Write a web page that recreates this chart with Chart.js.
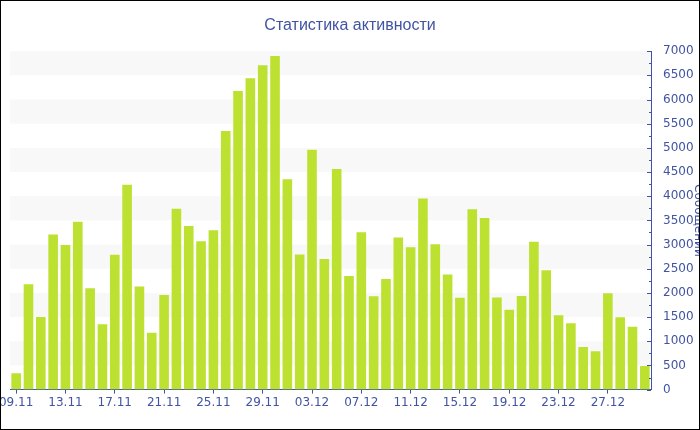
<!DOCTYPE html>
<html>
<head>
<meta charset="utf-8">
<script src="https://cdn.jsdelivr.net/npm/chart.js@4/dist/chart.umd.min.js"></script>
<style>
  html, body { margin: 0; padding: 0; background: #fff; }
  #caja { width: 698px; height: 428px; border: 1px solid #000; position: relative; }
</style>
</head>
<body>
<div id="caja"><canvas id="miGrafico" width="698" height="428"></canvas></div>
<script>
// Статистика активности — данные по дням
const fechas = [
  '09.11','10.11','11.11','12.11','13.11','14.11','15.11','16.11','17.11','18.11',
  '19.11','20.11','21.11','22.11','23.11','24.11','25.11','26.11','27.11','28.11',
  '29.11','30.11','01.12','02.12','03.12','04.12','05.12','06.12','07.12','08.12',
  '09.12','10.12','11.12','12.12','13.12','14.12','15.12','16.12','17.12','18.12',
  '19.12','20.12','21.12','22.12','23.12','24.12','25.12','26.12','27.12','28.12',
  '29.12','30.12'
];
const mensajes = [
  340, 2180, 1500, 3210, 2990, 3470, 2095, 1350, 2790, 4240,
  2135, 1175, 1955, 3740, 3385, 3070, 3295, 5350, 6175, 6440,
  6710, 6900, 4350, 2795, 4960, 2700, 4565, 2350, 3255, 1930,
  2290, 3145, 2945, 3955, 3005, 2380, 1900, 3730, 3550, 1905,
  1650, 1935, 3060, 2470, 1540, 1370, 880, 795, 1995, 1495,
  1300, 490
];
const ticksY = [0, 500, 1000, 1500, 2000, 2500, 3000, 3500, 4000, 4500, 5000, 5500, 6000, 6500, 7000];

const azul = '#4153a3';
const verde = '#bde130';

// franjas grises alternas + marcas menores del eje derecho
const franjas = {
  id: 'franjas',
  beforeDatasetsDraw(chart) {
    const { ctx, chartArea, scales } = chart;
    const y = scales.y;
    ctx.save();
    ctx.fillStyle = '#f8f8f8';
    for (let i = 1; i < ticksY.length - 1; i += 2) {
      const top = y.getPixelForValue(ticksY[i + 1]);
      const bot = y.getPixelForValue(ticksY[i]);
      ctx.fillRect(chartArea.left, top, chartArea.right - chartArea.left, bot - top);
    }
    ctx.restore();
  },
  afterDraw(chart) {
    const { ctx, scales } = chart;
    const y = scales.y;
    ctx.save();
    ctx.strokeStyle = azul;
    ctx.lineWidth = 1;
    for (let v = 0; v <= 7000; v += 250) {
      const py = Math.round(y.getPixelForValue(v)) + 0.5;
      const len = v % 500 === 0 ? 4 : 2;
      ctx.beginPath();
      ctx.moveTo(y.left - len, py);
      ctx.lineTo(y.left, py);
      ctx.stroke();
    }
    ctx.restore();
  }
};

const ctx = document.getElementById('miGrafico').getContext('2d');
new Chart(ctx, {
  type: 'bar',
  data: {
    labels: fechas,
    datasets: [{
      label: 'Сообщений',
      data: mensajes,
      backgroundColor: verde,
      barPercentage: 0.78,
      categoryPercentage: 1
    }]
  },
  options: {
    responsive: false,
    animation: false,
    layout: { padding: { left: 0, right: 0, bottom: 17 } },
    plugins: {
      legend: { display: false },
      tooltip: { enabled: false },
      title: {
        display: true,
        text: 'Статистика активности',
        color: azul,
        font: { family: 'Liberation Sans', size: 16, weight: 'normal' },
        padding: { top: 15, bottom: 16 }
      }
    },
    scales: {
      x: {
        offset: true,
        afterFit: (s) => { s.paddingLeft = 9; },
        grid: { display: true, drawOnChartArea: false, offset: false, color: azul, tickLength: 4 },
        border: { display: true, color: azul },
        ticks: {
          autoSkip: false,
          maxRotation: 0,
          color: azul,
          padding: 2,
          font: { family: 'DejaVu Sans', size: 12 },
          callback: function(val, i) { return i % 4 === 0 ? this.getLabelForValue(val) : null; }
        }
      },
      y: {
        position: 'right',
        min: 0,
        max: 7000,
        afterBuildTicks: (s) => { s.ticks = ticksY.map(v => ({ value: v })); },
        afterFit: (s) => { s.width = 48; },
        grid: { display: false },
        border: { display: true, color: azul },
        ticks: {
          color: azul,
          padding: 4,
          font: { family: 'DejaVu Sans', size: 12 },
          callback: (v) => String(v)
        },
        title: {
          display: true,
          text: 'Сообщений',
          color: azul,
          padding: { top: -6, bottom: 0 },
          font: { family: 'DejaVu Sans', size: 12 }
        }
      }
    }
  },
  plugins: [franjas]
});
</script>
</body>
</html>
